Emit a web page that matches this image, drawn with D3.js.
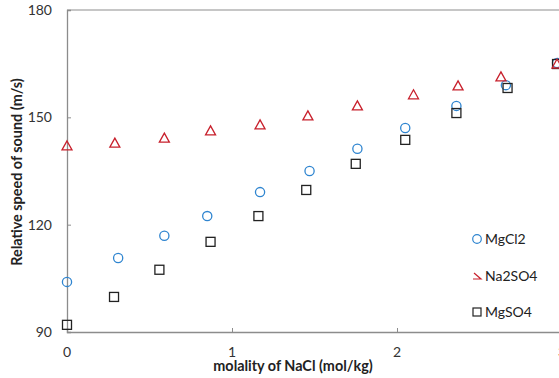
<!DOCTYPE html>
<html>
<head>
<meta charset="utf-8">
<script src="https://cdn.jsdelivr.net/npm/d3@7"></script>
<style>
  html, body { margin: 0; padding: 0; background: #fff; }
  svg { display: block; }
  text { font-family: Lato, "Open Sans", sans-serif; }
</style>
</head>
<body>
<svg id="chart" width="559" height="378"></svg>
<script>
const xTicks = [0, 1, 2, 3];
const yTicks = [90, 120, 150, 180];

const mgcl2X = [0, 0.31, 0.59, 0.85, 1.17, 1.47, 1.76, 2.05, 2.36, 2.66, 2.97];
const mgcl2Y = [104.0, 110.7, 116.9, 122.4, 129.1, 135.0, 141.2, 147.0, 153.2, 159.0, 165.2];

const na2so4X = [0, 0.29, 0.59, 0.87, 1.17, 1.46, 1.76, 2.10, 2.37, 2.63, 2.97];
const na2so4Y = [142.0, 142.8, 144.2, 146.2, 147.9, 150.4, 153.2, 156.3, 158.8, 161.3, 164.9];

const mgso4X = [0, 0.285, 0.56, 0.87, 1.16, 1.45, 1.75, 2.05, 2.36, 2.67, 2.97];
const mgso4Y = [92.0, 99.8, 107.4, 115.2, 122.4, 129.7, 137.0, 143.7, 151.2, 158.2, 164.9];

const seriesNames = ["MgCl2", "Na2SO4", "MgSO4"];

const svg = d3.select("#chart");
const x = d3.scaleLinear().domain([0, 3]).range([67, 562]);
const y = d3.scaleLinear().domain([90, 180]).range([332, 10]);

// top border line
svg.append("line").attr("x1", x(0)).attr("x2", 559).attr("y1", y(180)).attr("y2", y(180))
  .attr("stroke", "#b3b3b3").attr("stroke-width", 1.3);

// Y axis
const yAxis = svg.append("g").attr("transform", `translate(${x(0)},0)`)
  .call(d3.axisRight(y).tickValues(yTicks).tickSize(4).tickFormat(""));
yAxis.select(".domain").attr("stroke", "#8c8c8c").attr("stroke-width", 1.3);
yAxis.selectAll(".tick line").attr("stroke", "#8c8c8c");
svg.append("g").selectAll("text").data(yTicks).join("text")
  .attr("x", 52).attr("y", d => y(d)).attr("dy", "0.35em").attr("text-anchor", "end")
  .attr("font-size", 14).attr("fill", "#333").text(d => d);

// X axis
const xAxis = svg.append("g").attr("transform", `translate(0,${y(90)})`)
  .call(d3.axisTop(x).tickValues(xTicks).tickSize(4).tickFormat(""));
xAxis.select(".domain").attr("stroke", "#8c8c8c").attr("stroke-width", 1.3);
xAxis.selectAll(".tick line").attr("stroke", "#8c8c8c");
svg.append("g").selectAll("text").data(xTicks).join("text")
  .attr("x", d => x(d)).attr("y", 352).attr("dy", "0.35em").attr("text-anchor", "middle")
  .attr("font-size", 14).attr("fill", "#333").text(d => d);

// titles
svg.append("text").attr("x", 293).attr("y", 371).attr("text-anchor", "middle")
  .attr("font-size", 14.4).attr("font-weight", "bold").attr("fill", "#222")
  .text("molality of NaCl (mol/kg)");
svg.append("text").attr("transform", "translate(22,172) rotate(-90)").attr("text-anchor", "middle")
  .attr("font-size", 14.4).attr("font-weight", "bold").attr("fill", "#222")
  .text("Relative speed of sound (m/s)");

const blue = "#2f85d0", red = "#c8202c", black = "#222";
const triPath = "M0,-5 L5,4 L-5,4 Z";

// MgCl2 circles
svg.append("g").selectAll("circle").data(mgcl2X.map((d, i) => [d, mgcl2Y[i]])).join("circle")
  .attr("cx", d => x(d[0])).attr("cy", d => y(d[1])).attr("r", 4.6)
  .attr("fill", "none").attr("stroke", blue).attr("stroke-width", 1.3);

// MgSO4 squares
svg.append("g").selectAll("rect").data(mgso4X.map((d, i) => [d, mgso4Y[i]])).join("rect")
  .attr("x", d => x(d[0]) - 4.5).attr("y", d => y(d[1]) - 4.5).attr("width", 9).attr("height", 9)
  .attr("fill", "none").attr("stroke", black).attr("stroke-width", 1.3);

// Na2SO4 triangles
svg.append("g").selectAll("path").data(na2so4X.map((d, i) => [d, na2so4Y[i]])).join("path")
  .attr("d", triPath).attr("transform", d => `translate(${x(d[0])},${y(d[1])})`)
  .attr("fill", "none").attr("stroke", red).attr("stroke-width", 1.3);

// Legend
const leg = svg.append("g");
const legY = [239, 276, 312];
leg.append("circle").attr("cx", 477).attr("cy", legY[0]).attr("r", 4.3)
  .attr("fill", "none").attr("stroke", blue).attr("stroke-width", 1.2);
leg.append("path").attr("d", `M474,${legY[1] - 3} L481,${legY[1] + 3} L473,${legY[1] + 3}`)
  .attr("fill", "none").attr("stroke", red).attr("stroke-width", 1.2);
leg.append("rect").attr("x", 473).attr("y", legY[2] - 4).attr("width", 8).attr("height", 8)
  .attr("fill", "none").attr("stroke", black).attr("stroke-width", 1.2);
leg.selectAll("text").data(seriesNames).join("text")
  .attr("x", 485).attr("y", (d, i) => legY[i]).attr("dy", "0.35em")
  .attr("font-size", 14).attr("fill", "#222").text(d => d);
</script>
</body>
</html>
